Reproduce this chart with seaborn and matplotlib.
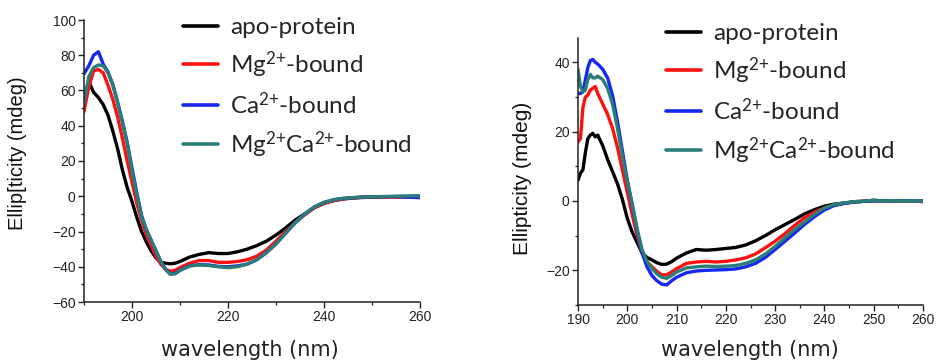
import numpy as np
import pandas as pd
import matplotlib
matplotlib.use("Agg")
import matplotlib.pyplot as plt
from matplotlib.ticker import MultipleLocator
import seaborn as sns

# ---------------- data ----------------
labels = ["apo-protein", "Mg$^{2{+}}$-bound", "Ca$^{2{+}}$-bound", "Mg$^{2{+}}$Ca$^{2{+}}$-bound"]
colors = ["#000000", "#ff1010", "#1428f0", "#2b7e78"]

wl_left = [190, 191, 192, 193, 194, 195, 196, 197, 198, 199, 200, 201, 202, 203, 204,
           205, 206, 207, 208, 209, 210, 212, 214, 216, 218, 220, 222, 224, 226, 228,
           230, 232, 234, 236, 238, 240, 242, 244, 246, 248, 250, 255, 260]
apo_left = [56, 65, 59, 56, 52, 46, 37, 27, 15, 5, -3, -12, -20, -26, -31,
            -35, -37.5, -38, -38.3, -38, -37, -34.5, -33, -32, -32.5, -32.5, -31.5, -30, -28, -25.5,
            -22, -18, -13.5, -10, -6.5, -4, -2.5, -1.5, -1, -0.7, -0.5, -0.2, 0]
mg_left = [48, 62, 71, 72, 70, 63, 55, 45, 33, 20, 8, -4, -14, -22, -28,
           -34, -38.5, -41.5, -42.5, -42, -40.5, -38, -36.5, -36.5, -37.5, -37.5, -37, -36, -34, -30.5,
           -25.5, -20, -15, -10.5, -6.5, -4, -2.5, -1.5, -1, -0.5, -0.3, -0.5, -0.5]
ca_left = [69.5, 74, 80, 82, 75, 70.5, 63.5, 53.5, 42.5, 30.5, 16, 2, -11, -19, -25,
           -31, -37, -41.5, -44, -43.8, -42, -39.5, -38.8, -39, -39.8, -40, -39.5, -38.5, -36, -32,
           -27, -21, -15, -10, -6, -3.5, -2, -1.2, -0.8, -0.5, -0.3, -0.2, -0.8]
mgca_left = [53, 68, 73, 74.5, 74, 70, 63, 53, 42, 30, 14, 1, -12, -19, -25,
             -31, -37, -41.5, -44.3, -44, -42, -39.5, -39, -39.3, -40, -40.5, -40, -38.5, -36, -32,
             -27, -21, -15, -10, -6, -3.5, -2, -1.2, -0.8, -0.5, -0.3, 0, 0.3]

wl_right = [190, 190.5, 191, 191.5, 192, 192.5, 193, 193.5, 194, 195, 196, 197, 198, 199, 200,
            201, 202, 203, 204, 205, 206, 207, 208, 209, 210, 212, 214, 216, 218, 220,
            222, 224, 226, 228, 230, 232, 234, 236, 238, 240, 242, 244, 246, 248, 250,
            252, 254, 256, 258, 260]
apo_right = [6, 8, 9, 14, 18, 19, 19.5, 18.5, 19, 16, 12, 8.5, 5, 0.5, -5,
             -9, -12, -15, -16.3, -17, -17.8, -18.3, -18.2, -17.5, -16.5, -15, -14, -14.2, -14, -13.7,
             -13.4, -12.7, -11.5, -10, -8.3, -6.8, -5.3, -3.7, -2.5, -1.5, -0.9, -0.6, -0.2, -0.1, 0.2,
             0, 0.1, 0, 0.1, 0]
mg_right = [17, 18, 27, 30, 30.5, 32, 32.5, 33, 31, 28, 25, 21, 15.5, 9, 2.5,
            -4, -10, -15, -17.5, -19, -20.3, -21.3, -21.3, -20.5, -19.5, -18, -17.6, -17.4, -17.6, -17.4,
            -17, -16.4, -15.3, -13.5, -11.6, -9.4, -7, -4.8, -3.2, -2, -1.2, -0.7, -0.3, -0.1, 0,
            0.1, 0, 0.1, 0, -0.2]
ca_right = [31, 31, 31.5, 35, 38.5, 40.5, 40.8, 40, 39.5, 38, 35.5, 30.5, 23, 14.5, 6,
            -1, -8.5, -15, -19, -21.5, -23, -24, -24.2, -23, -22, -20.7, -20.2, -20, -19.9, -19.8,
            -19.6, -19, -18, -16.3, -14, -11.6, -9.2, -6.7, -4.5, -2.6, -1.3, -0.7, -0.3, -0.1, 0,
            0.1, 0, 0.1, 0, 0]
mgca_right = [38, 33, 31.5, 32, 35, 36.5, 35.5, 35.5, 36, 35, 32.5, 28, 21, 13, 5.5,
              -1, -8, -14, -17.5, -19.5, -21, -22, -22.3, -21.5, -20.5, -19.3, -19, -18.8, -18.9, -18.8,
              -18.6, -18, -17, -15.3, -13.1, -10.6, -8.2, -6, -3.8, -2, -1, -0.6, -0.2, -0.1, 0.2,
              0, 0.1, 0, 0.1, 0]

xlabel = "wavelength (nm)"
ylabel_left = "Ellip[ticity (mdeg)"
ylabel_right = "Ellipticity (mdeg)"


def long_df(wl, series):
    frames = []
    for lab, vals in zip(labels, series):
        frames.append(pd.DataFrame({"wl": wl, "val": vals, "sample": lab}))
    return pd.concat(frames, ignore_index=True)


df_left = long_df(wl_left, [apo_left, mg_left, ca_left, mgca_left])
df_right = long_df(wl_right, [apo_right, mg_right, ca_right, mgca_right])

# ---------------- style ----------------
sns.set_style("ticks")
plt.rcParams["font.family"] = ["Liberation Sans", "DejaVu Sans"]
plt.rcParams["mathtext.fontset"] = "custom"
plt.rcParams["mathtext.rm"] = "Lato"
plt.rcParams["mathtext.it"] = "Lato"
plt.rcParams["mathtext.bf"] = "Lato"
plt.rcParams["mathtext.sf"] = "Lato"

fig = plt.figure(figsize=(9.36, 3.62), dpi=100)
ax1 = fig.add_axes([84 / 936, 1 - 302 / 362, (420 - 84) / 936, (302 - 20) / 362])
ax2 = fig.add_axes([578 / 936, 1 - 305 / 362, (923 - 578) / 936, (305 - 38) / 362])

pal = dict(zip(labels, colors))
for ax, df in [(ax1, df_left), (ax2, df_right)]:
    sns.lineplot(data=df, x="wl", y="val", hue="sample", hue_order=labels, palette=pal,
                 linewidth=2.4, errorbar=None, legend=False, ax=ax)
    for s in ["top", "right"]:
        ax.spines[s].set_visible(False)
    for s in ["left", "bottom"]:
        ax.spines[s].set_linewidth(1.1)
        ax.spines[s].set_color("#222222")
    ax.tick_params(which="major", direction="out", length=4, width=1.0, color="#222222",
                   labelsize=10, labelcolor="#222222", pad=2)
    ax.tick_params(which="minor", direction="out", length=2.5, width=0.9, color="#222222")
    ax.set_xlim(190, 260)

ax1.set_ylim(-60, 100)
ax1.xaxis.set_major_locator(MultipleLocator(20))
ax1.xaxis.set_minor_locator(MultipleLocator(10))
ax1.yaxis.set_major_locator(MultipleLocator(20))
ax1.yaxis.set_minor_locator(MultipleLocator(10))
ax1.set_xticks([200, 220, 240, 260])

ax2.set_ylim(-30, 47)
ax2.xaxis.set_major_locator(MultipleLocator(10))
ax2.xaxis.set_minor_locator(MultipleLocator(5))
ax2.yaxis.set_major_locator(MultipleLocator(20))
ax2.yaxis.set_minor_locator(MultipleLocator(10))

ax1.set_xlabel("")
ax2.set_xlabel("")
ax1.set_ylabel("")
ax2.set_ylabel("")
fig.text(250 / 936, 1 - 350 / 362, xlabel, ha="center", va="center", fontsize=15,
         family="DejaVu Sans", color="#222222")
fig.text(750 / 936, 1 - 350 / 362, xlabel, ha="center", va="center", fontsize=15,
         family="DejaVu Sans", color="#222222")
fig.text(18 / 936, 1 - 153 / 362, ylabel_left, ha="center", va="center", rotation=90,
         fontsize=14.5, color="#111111")
fig.text(523 / 936, 1 - 178 / 362, ylabel_right, ha="center", va="center", rotation=90,
         fontsize=15, color="#111111")

# legends
for ax, anchor in [(ax1, (183 / 936, 1 - 17 / 362)), (ax2, (666 / 936, 1 - 23 / 362))]:
    handles = ax.get_lines()[:4]
    leg = fig.legend(handles, labels, loc="upper left", bbox_to_anchor=anchor,
                     frameon=False, prop={"family": "Lato", "size": 17.5},
                     handlelength=1.45, handletextpad=0.5, labelspacing=0.47,
                     borderpad=0, borderaxespad=0)
    for h in leg.get_lines():
        h.set_linewidth(2.6)

fig.savefig("out.png", dpi=100)
